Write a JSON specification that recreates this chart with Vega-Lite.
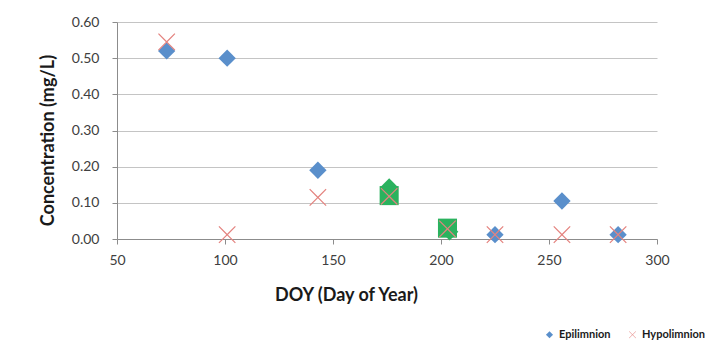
{
  "$schema": "https://vega.github.io/schema/vega-lite/v6.json",
  "width": 540,
  "height": 217,
  "autosize": {"type": "none"},
  "padding": {"left": 117, "top": 22, "right": 63, "bottom": 104},
  "background": "white",
  "config": {
    "view": {"stroke": null},
    "font": "Lato"
  },
  "data": {
    "values": [
      {"doy": 73, "conc": 0.52, "series": "Epilimnion"},
      {"doy": 101, "conc": 0.50, "series": "Epilimnion"},
      {"doy": 143, "conc": 0.19, "series": "Epilimnion"},
      {"doy": 225, "conc": 0.012, "series": "Epilimnion"},
      {"doy": 256, "conc": 0.105, "series": "Epilimnion"},
      {"doy": 282, "conc": 0.012, "series": "Epilimnion"},
      {"doy": 176, "conc": 0.144, "series": "Epilimnion*"},
      {"doy": 204, "conc": 0.02, "series": "Epilimnion*"},
      {"doy": 176, "conc": 0.12, "series": "Mixed layer"},
      {"doy": 203, "conc": 0.03, "series": "Mixed layer"},
      {"doy": 73, "conc": 0.545, "series": "Hypolimnion"},
      {"doy": 101, "conc": 0.012, "series": "Hypolimnion"},
      {"doy": 143, "conc": 0.115, "series": "Hypolimnion"},
      {"doy": 176, "conc": 0.118, "series": "Hypolimnion"},
      {"doy": 203, "conc": 0.028, "series": "Hypolimnion"},
      {"doy": 225, "conc": 0.012, "series": "Hypolimnion"},
      {"doy": 256, "conc": 0.012, "series": "Hypolimnion"},
      {"doy": 282, "conc": 0.012, "series": "Hypolimnion"}
    ]
  },
  "mark": {"type": "point", "filled": true, "opacity": 1, "size": 300},
  "encoding": {
    "x": {
      "field": "doy",
      "type": "quantitative",
      "scale": {"domain": [50, 300], "nice": false, "zero": false},
      "axis": {
        "values": [50, 100, 150, 200, 250, 300],
        "grid": false,
        "labelFlush": false,
        "labelOverlap": false,
        "domainColor": "#8c8c8c",
        "tickColor": "#8c8c8c",
        "tickSize": 5,
        "labelFontSize": 14,
        "labelColor": "#404040",
        "labelPadding": 9,
        "title": "DOY (Day of Year)",
        "titleFontSize": 18,
        "titleFontWeight": "bold",
        "titleColor": "#1a1a1a",
        "titleX": 229,
        "titleY": 56,
        "titleBaseline": "middle",
        "titleAnchor": null
      }
    },
    "y": {
      "field": "conc",
      "type": "quantitative",
      "scale": {"domain": [0, 0.6], "nice": false},
      "axis": {
        "values": [0, 0.1, 0.2, 0.3, 0.4, 0.5, 0.6],
        "format": ".2f",
        "grid": true,
        "labelOverlap": false,
        "gridColor": "#c4c4c4",
        "domainColor": "#8c8c8c",
        "tickColor": "#8c8c8c",
        "tickSize": 5,
        "labelFontSize": 14,
        "labelColor": "#404040",
        "labelPadding": 13,
        "title": "Concentration (mg/L)",
        "titleFontSize": 18,
        "titleFontWeight": "bold",
        "titleColor": "#1a1a1a",
        "titleAngle": -90,
        "titleX": -69,
        "titleY": 118,
        "titleAlign": "center",
        "titleBaseline": "middle"
      }
    },
    "shape": {
      "field": "series",
      "type": "nominal",
      "scale": {
        "domain": ["Epilimnion", "Hypolimnion", "Epilimnion*", "Mixed layer"],
        "range": [
          "diamond",
          "M-1,-0.9L-0.9,-1L0,-0.1L0.9,-1L1,-0.9L0.1,0L1,0.9L0.9,1L0,0.1L-0.9,1L-1,0.9L-0.1,0Z",
          "diamond",
          "M-1.1,-1.1L1.1,-1.1L1.1,1.1L-1.1,1.1Z"
        ]
      },
      "legend": {
        "values": ["Epilimnion", "Hypolimnion"],
        "title": null,
        "orient": "none",
        "direction": "horizontal",
        "legendX": 427,
        "legendY": 307,
        "symbolSize": 50,
        "labelFontSize": 11,
        "labelFontWeight": "bold",
        "labelColor": "#1a1a1a",
        "labelOffset": 4,
        "columnPadding": 16
      }
    },
    "color": {
      "field": "series",
      "type": "nominal",
      "scale": {
        "domain": ["Epilimnion", "Hypolimnion", "Epilimnion*", "Mixed layer"],
        "range": ["#5a8fcb", "#e4837f", "#2bb25e", "#2bb25e"]
      },
      "legend": {
        "values": ["Epilimnion", "Hypolimnion"],
        "title": null,
        "orient": "none",
        "direction": "horizontal",
        "legendX": 427,
        "legendY": 307,
        "symbolSize": 50,
        "labelFontSize": 11,
        "labelFontWeight": "bold",
        "labelColor": "#1a1a1a",
        "labelOffset": 4,
        "columnPadding": 16
      }
    }
  }
}
